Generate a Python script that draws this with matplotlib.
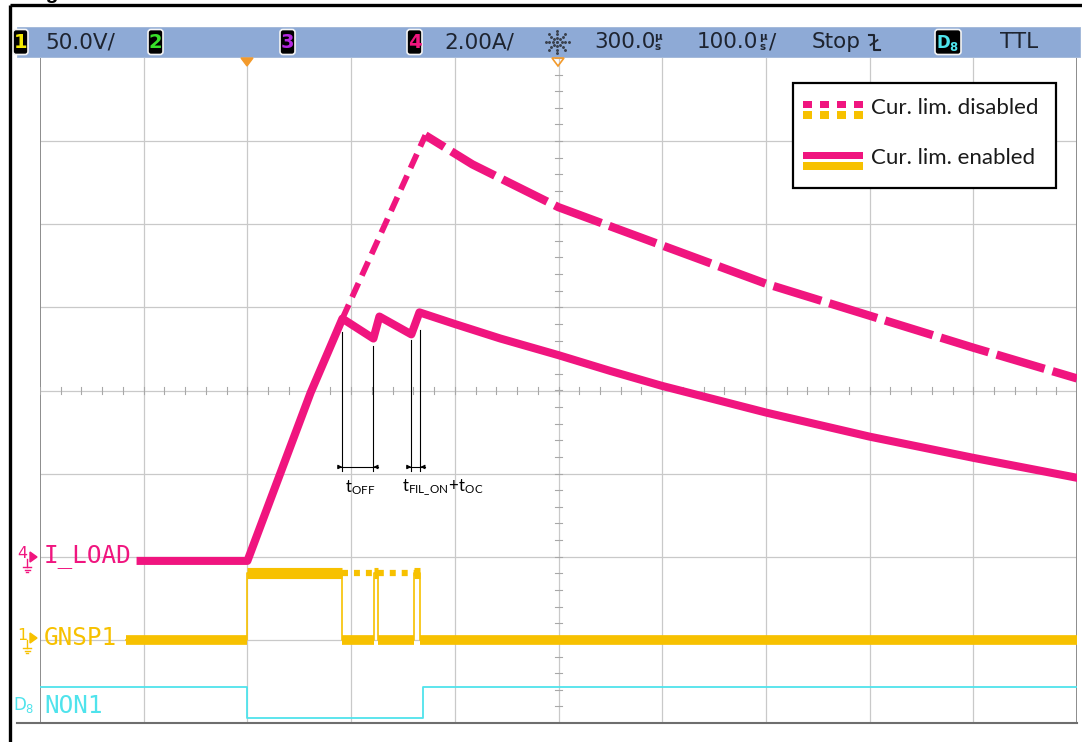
import numpy as np
import matplotlib
matplotlib.use("Agg")
import matplotlib.pyplot as plt
from matplotlib.patches import Rectangle, FancyBboxPatch, Polygon

plt.rcParams["lines.scale_dashes"] = False

W, H, DPI = 1082, 742, 100

# Channel colours
MAGENTA = "#f0157f"
AMBER = "#f7c100"
CYAN = "#4fe3ec"
GRID = "#c9c9c9"
BAR = "#8eaad6"
TEXT = "#1e2430"

# Time base: 100 us/div, trigger at 0 us, delay 300 us
t_lo, t_hi = -200.0, 800.0
amps_per_div = 2.0
volts_per_div = 50.0
iload_zero_div = -2.05
gnsp_zero_div = -3.0
non_low_div, non_high_div = -3.94, -3.57

# I_LOAD with current limitation enabled [us], [A]
t_iload_on = [-103, 0, 61, 91.6, 121.5, 127.3, 158.1, 165.9, 200, 244, 300,
              350, 400, 500, 600, 700, 800]
i_iload_on = [0.0, 0.0, 4.05, 5.83, 5.35, 5.88, 5.45, 5.98, 5.70, 5.35, 4.95,
              4.57, 4.21, 3.57, 2.99, 2.48, 2.00]

# I_LOAD with current limitation disabled
t_iload_off_rise = [91.6, 171.6]
i_iload_off_rise = [5.83, 10.24]
t_iload_off_fall = [171.6, 217, 300, 400, 500, 600, 700, 800]
i_iload_off_fall = [10.24, 9.54, 8.51, 7.59, 6.67, 5.90, 5.13, 4.39]

# GNSP1 gate voltage: switching instants [us] and levels [V] between them
t_gnsp_start, t_gnsp_end = -117, 800
t_gnsp_edges = [0, 91.6, 122.5, 126.4, 161.0, 166.0]
v_gnsp_on = [0, 40, 0, 40, 0, 40, 0]
t_gnsp_off_hold = [91.6, 166.0]
v_gnsp_off_hold = [40, 40]

# NON1 digital input
t_non_edges = [0, 169.7]
non_levels = [1, 0, 1]

# Annotated intervals
t_off_marks = [91.6, 121.5]
t_filon_marks = [158.1, 166.8]


def amps_to_div(a):
    return iload_zero_div + np.asarray(a, float) / amps_per_div


def volts_to_div(v):
    return gnsp_zero_div + np.asarray(v, float) / volts_per_div


fig = plt.figure(figsize=(W / DPI, H / DPI), dpi=DPI)
fig.patch.set_facecolor("white")

# ---------------- scope graticule ----------------
ax = fig.add_axes([40 / W, 1 - 723 / H, 1037 / W, 665 / H], zorder=1)
ax.set_xlim(t_lo, t_hi)
ax.set_ylim(-4, 4)
ax.set_xticks([])
ax.set_yticks([])
ax.patch.set_alpha(0)
for s in ax.spines.values():
    s.set_visible(False)

for t in np.arange(t_lo + 100, t_hi, 100):
    ax.axvline(t, color=GRID, lw=0.9, zorder=0)
for y in range(-3, 4):
    ax.axhline(y, color=GRID, lw=0.9, zorder=0)
ax.axvline(t_lo, color="#8c8c8c", lw=1.4, zorder=0)
ax.axvline(t_hi, color="#8c8c8c", lw=1.4, zorder=0)

# minor ticks on the centre cross
for t in np.arange(t_lo, t_hi + 1, 20):
    ax.plot([t, t], [-0.045, 0.045], color="#a8a8a8", lw=0.8, zorder=0)
for y in np.arange(-4, 4.01, 0.2):
    ax.plot([296.5, 303.5], [y, y], color="#a8a8a8", lw=0.8, zorder=0)

# ---------------- traces ----------------
# NON1
t_non = [t_lo] + t_non_edges + [t_hi]
y_non = [non_high_div if lv else non_low_div for lv in non_levels]
ax.step(t_non, y_non + [y_non[-1]], where="post", color=CYAN, lw=1.3, zorder=2)

# GNSP1 (enabled): thin switching edges, thick plateau segments
t_g = [t_gnsp_start] + t_gnsp_edges + [t_gnsp_end]
y_g = volts_to_div(v_gnsp_on)
ax.step(t_g, list(y_g) + [y_g[-1]], where="post", color=AMBER, lw=1.2, zorder=3)
for k, lvl in enumerate(y_g):
    ax.plot([t_g[k], t_g[k + 1]], [lvl, lvl], color=AMBER,
            lw=8 if lvl > gnsp_zero_div else 7, solid_capstyle="butt", zorder=3)
# GNSP1 (disabled) stays on
ax.plot(t_gnsp_off_hold, volts_to_div(v_gnsp_off_hold), color=AMBER, lw=4.5,
        linestyle=(0, (4.3, 4.3)), zorder=3)

# I_LOAD
ax.plot(t_iload_off_rise, amps_to_div(i_iload_off_rise), color=MAGENTA, lw=4.2,
        linestyle=(0, (11, 6)), solid_capstyle="butt", zorder=4)
ax.plot(t_iload_off_fall, amps_to_div(i_iload_off_fall), color=MAGENTA, lw=6,
        linestyle=(20, (36, 6)), zorder=4)
ax.plot(t_iload_on, amps_to_div(i_iload_on), color=MAGENTA, lw=5.8,
        solid_joinstyle="round", zorder=5)

# interval annotations
tops = [0.70, 0.53, 0.61, 0.73]
for t, top in zip(t_off_marks + t_filon_marks, tops):
    ax.plot([t, t], [top, -0.97], color="black", lw=0.8, zorder=6)
y_arrow = -0.92
for (ta, tb) in (t_off_marks, t_filon_marks):
    ax.plot([ta - 4, tb + 4], [y_arrow, y_arrow], color="black", lw=0.8, zorder=6)
    ax.annotate("", xy=(ta, y_arrow), xytext=(ta - 4, y_arrow),
                arrowprops=dict(arrowstyle="-|>", lw=0.8, color="black",
                                mutation_scale=6, shrinkA=0, shrinkB=0), zorder=6)
    ax.annotate("", xy=(tb, y_arrow), xytext=(tb + 4, y_arrow),
                arrowprops=dict(arrowstyle="-|>", lw=0.8, color="black",
                                mutation_scale=6, shrinkA=0, shrinkB=0), zorder=6)
ax.text(np.mean(t_off_marks) + 2, -1.17, r"$\mathregular{t_{OFF}}$",
        ha="center", va="center", fontsize=12, family="Lato", zorder=6)
ax.text(np.mean(t_filon_marks) + 26, -1.17, r"$\mathregular{t_{FIL\_ON}\!+\!t_{OC}}$",
        ha="center", va="center", fontsize=12, family="Lato", zorder=6)

# ---------------- pixel overlay: frame, status bar, labels, legend ----------------
ov = fig.add_axes([0, 0, 1, 1], zorder=3)
ov.set_xlim(0, W)
ov.set_ylim(H, 0)
ov.axis("off")
ov.patch.set_alpha(0)

# document frame
ov.plot([10, W], [5, 5], color="black", lw=2.4, solid_capstyle="butt")
ov.plot([10, 10], [5, H], color="black", lw=2.4, solid_capstyle="butt")
ov.text(28, -1, "Figure", fontsize=15, fontweight="bold", family="Liberation Sans",
        va="baseline", ha="left", color="black")

# screen bottom edge
ov.plot([17, 1077], [723, 723], color="#6e6e6e", lw=1.5)

# status bar
ov.add_patch(Rectangle((17, 27), 1063, 30, facecolor=BAR, edgecolor="#9fb6d8", lw=0.6))


def badge(x, w, label, color):
    ov.add_patch(FancyBboxPatch((x, 29.5), w, 25, boxstyle="round,pad=0,rounding_size=3",
                                facecolor="black", edgecolor="#f4f4f4", lw=1.2))
    ov.text(x + w / 2, 43, label, color=color, fontsize=14 if len(label) == 1 else 12,
            fontweight="bold", family="DejaVu Sans", ha="center", va="center")


badge(13, 15, "1", "#f2e800")
badge(148, 15, "2", "#38e02a")
badge(280, 15, "3", "#b428e0")
badge(407, 15, "4", MAGENTA)
badge(935, 26, r"$\mathbf{D_8}$", CYAN)

bar_font = dict(fontsize=15.5, color=TEXT, family="DejaVu Sans", va="center")
ov.text(45, 42, "50.0V/", ha="left", **bar_font)
ov.text(444, 42, "2.00A/", ha="left", **bar_font)
ov.text(594, 42, "300.0", ha="left", **bar_font)
ov.text(697, 42, "100.0", ha="left", **bar_font)
ov.text(812, 42, "Stop", ha="left", **bar_font)
ov.text(1000, 42, "TTL", ha="left", **bar_font)
ov.text(769, 42, "/", ha="left", **bar_font)
for xs in (658, 763):
    ov.text(xs, 42, "\u00b5\ns", fontsize=7.5, color=TEXT, ha="center", va="center",
            family="DejaVu Sans", fontweight="bold", linespacing=0.95)

# acquisition icon
cx, cy = 557, 42
for ang in np.arange(0, 360, 45):
    r = np.array([4.5, 8.0, 11.5])
    ov.plot(cx + r * np.cos(np.radians(ang)), cy + r * 0.95 * np.sin(np.radians(ang)),
            ".", color="#39404c", ms=2.2)
ov.plot([cx], [cy], ".", color="#39404c", ms=2.5)

# falling-edge trigger glyph
ov.plot([869, 874, 874, 880], [35, 35, 50, 50], color=TEXT, lw=1.5)
ov.plot([870.5, 877.5], [45, 40], color=TEXT, lw=1.3)

# trigger and delay markers
ov.add_patch(Polygon([(241, 58), (253, 58), (247, 66)], closed=True,
                     facecolor="#f39a2b", edgecolor="#f39a2b"))
ov.add_patch(Polygon([(552, 58), (564, 58), (558, 66)], closed=True,
                     facecolor="none", edgecolor="#f39a2b", lw=1.2))

# channel labels
mono = dict(family="DejaVu Sans Mono", fontsize=17.5, va="center", ha="left")
ov.text(44, 556, "I_LOAD", color=MAGENTA, **mono)
ov.text(44, 638, "GNSP1", color=AMBER, **mono)
ov.text(44, 706, "NON1", color=CYAN, **mono)


def ground_marker(y, digit, color):
    ov.text(22, y - 3, digit, color=color, fontsize=11.5, ha="center", va="center",
            family="DejaVu Sans")
    ov.add_patch(Polygon([(30, y - 5), (30, y + 5), (37, y)], closed=True,
                         facecolor=color, edgecolor=color))
    ov.plot([27, 27], [y + 2, y + 10], color=color, lw=1.0)
    ov.plot([23, 31], [y + 10, y + 10], color=color, lw=1.0)
    ov.plot([24.5, 29.5], [y + 12.5, y + 12.5], color=color, lw=1.0)
    ov.plot([26, 28], [y + 15, y + 15], color=color, lw=1.0)


ground_marker(557, "4", MAGENTA)
ground_marker(638, "1", AMBER)
ov.text(24, 705, r"$\mathregular{D_8}$", color=CYAN, fontsize=12, ha="center",
        va="center", family="DejaVu Sans")

# legend
ov.add_patch(Rectangle((793, 83), 263, 105, facecolor="white", edgecolor="black", lw=1.6))
for x0 in (803, 820, 837, 854):
    ov.add_patch(Rectangle((x0, 100.5), 8.5, 7.5, facecolor=MAGENTA, edgecolor="none"))
    ov.add_patch(Rectangle((x0, 111), 8.5, 7.5, facecolor=AMBER, edgecolor="none"))
ov.add_patch(Rectangle((803, 151.5), 59.5, 7.5, facecolor=MAGENTA, edgecolor="none"))
ov.add_patch(Rectangle((803, 162), 59.5, 7.5, facecolor=AMBER, edgecolor="none"))
leg_font = dict(fontsize=16, family="Lato", color="#1a1a1a", va="center", ha="left")
ov.text(871, 108.5, "Cur. lim. disabled", **leg_font)
ov.text(871, 158.5, "Cur. lim. enabled", **leg_font)

fig.savefig("out.png", dpi=DPI)
